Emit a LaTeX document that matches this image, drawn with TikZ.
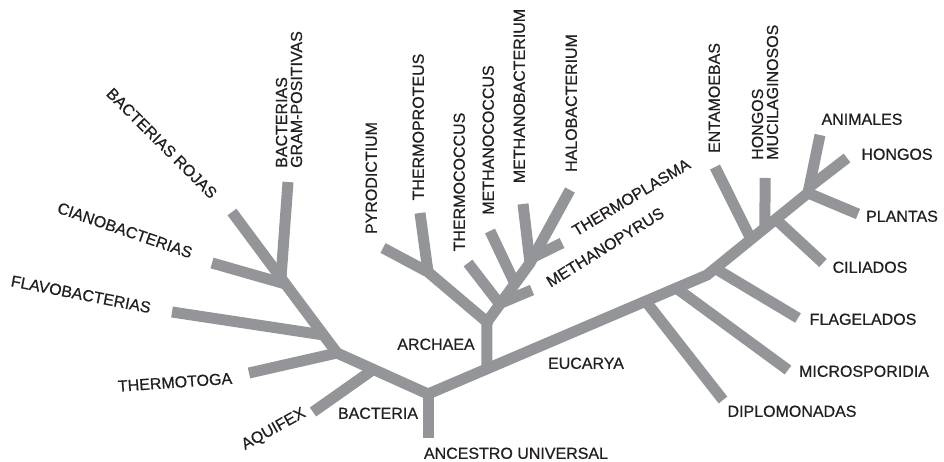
\documentclass[tikz,border=0pt]{standalone}
\usepackage{fontspec}
\setmainfont{Liberation Sans}
\newfontfamily\lblfont{Liberation Sans}[FakeBold=0.6]
\usetikzlibrary{calc}
\definecolor{branchgray}{RGB}{147,149,152}
\definecolor{labelink}{RGB}{35,31,32}
\begin{document}
\begin{tikzpicture}[x=1pt,y=-1pt,
  branch/.style={draw=branchgray, line width=11pt, line cap=butt, line join=miter},
  lbl/.style={text=labelink, font=\lblfont\fontsize{16}{15}\selectfont, inner sep=0pt, text height=11.6pt, text depth=0pt},
  lbltwo/.style={text=labelink, font=\lblfont\fontsize{16}{15}\selectfont, inner sep=0pt, align=left}]
\useasboundingbox (0,0) rectangle (944,462);
% ---------- coordinates ----------
\coordinate (rootend) at (428,438);
\coordinate (R) at (428,394);
% bacteria
\coordinate (B1) at (337,353);
\coordinate (B2) at (281,278);
\coordinate (rojas) at (232,212);
\coordinate (gram) at (288,182);
\coordinate (ciano) at (212,263);
\coordinate (flavo) at (172,312);
\coordinate (thermotoga) at (249,373);
\coordinate (aquifex) at (313,412);
\coordinate (jciano) at ($(B2)!0.08!(B1)$);
\coordinate (jflavo) at ($(B2)!0.76!(B1)$);
\coordinate (jaquifex) at ($(B1)!0.40!(R)$);
% eucarya main
\coordinate (E2) at (707,275);
\coordinate (E4) at (808,193);
\coordinate (E1) at ($(R)!0.211!(E2)$);
% archaea
\coordinate (A0) at (487,322);
\coordinate (P) at (428,272);
\coordinate (pyro) at (383,248);
\coordinate (tproteus) at (420,213);
\coordinate (S) at (530,263);
\coordinate (tcoccus) at (468,263);
\coordinate (mpyrus) at (532,290);
\coordinate (mcoccus) at (490,231);
\coordinate (mbact) at (523,204);
\coordinate (halo) at (570,190);
\coordinate (tplasma) at (562,243);
\coordinate (jtcoccus) at ($(A0)!0.30!(S)$);
\coordinate (jmpyrus) at ($(A0)!0.32!(S)$);
\coordinate (jmcoccus) at ($(A0)!0.65!(S)$);
\coordinate (jtplasma) at ($(S)!0.08!(halo)$);
% eucarya branches
\coordinate (diplo) at (723,400);
\coordinate (micro) at (788,370);
\coordinate (flage) at (798,318);
\coordinate (ciliad) at (823,263);
\coordinate (entam) at (715,167);
\coordinate (hmucil) at (765,178);
\coordinate (anim) at (820,135);
\coordinate (hongos) at (847,158);
\coordinate (plantas) at (858,214);
\coordinate (jdiplo) at ($(R)!0.78!(E2)$);
\coordinate (jmicro) at ($(R)!0.89!(E2)$);
\coordinate (jflage) at ($(E2)!0.08!(E4)$);
\coordinate (jentam) at ($(E2)!0.436!(E4)$);
\coordinate (jhmucil) at ($(E2)!0.574!(E4)$);
\coordinate (jciliad) at ($(E2)!0.68!(E4)$);
\coordinate (jhongos) at ($(E4)!0.10!(anim)$);
% ---------- branches ----------
\draw[branch] (rootend) -- (R);
\draw[branch] (rojas) -- (B2) -- (B1) -- (R) -- (E2) -- (E4) -- (anim);
\draw[branch] (gram) -- (B2);
\draw[branch] (ciano) -- (jciano);
\draw[branch] (flavo) -- (jflavo);
\draw[branch] (thermotoga) -- (B1);
\draw[branch] (aquifex) -- (jaquifex);
% archaea
\draw[branch] (E1) -- (A0) -- (P) -- (pyro);
\draw[branch] (tproteus) -- (P);
\draw[branch] (A0) -- (S) -- (halo);
\draw[branch] (mbact) -- (S);
\draw[branch] (tcoccus) -- (jtcoccus);
\draw[branch] (mpyrus) -- (jmpyrus);
\draw[branch] (mcoccus) -- (jmcoccus);
\draw[branch] (tplasma) -- (jtplasma);
% eucarya
\draw[branch] (diplo) -- (jdiplo);
\draw[branch] (micro) -- (jmicro);
\draw[branch] (flage) -- (jflage);
\draw[branch] (entam) -- (jentam);
\draw[branch] (hmucil) -- (jhmucil);
\draw[branch] (ciliad) -- (jciliad);
\draw[branch] (hongos) -- (jhongos);
\draw[branch] (plantas) -- (E4);
% ---------- labels ----------
\node[lbltwo, rotate=90, anchor=west] (Lgram) at (289,168) {BACTERIAS\\GRAM-POSITIVAS};
\node[lbl, rotate=-45] (Lrojas) at (162,143) {BACTERIAS ROJAS};
\node[lbl, rotate=-19] (Lciano) at (125,230) {CIANOBACTERIAS};
\node[lbl, rotate=-11] (Lflavo) at (81,294) {FLAVOBACTERIAS};
\node[lbl, rotate=4] (Lthermotoga) at (175,382) {THERMOTOGA};
\node[lbl, rotate=29] (Laquifex) at (273,428) {AQUIFEX};
\node[lbl] (Lbacteria) at (378,413) {BACTERIA};
\node[lbl] (Lancestro) at (516,453) {ANCESTRO UNIVERSAL};
\node[lbl] (Larchaea) at (436,344) {ARCHAEA};
\node[lbl] (Leucarya) at (586,363) {EUCARYA};
\node[lbl, rotate=90] (Lpyro) at (371,178) {PYRODICTIUM};
\node[lbl, rotate=90] (Ltproteus) at (418,127) {THERMOPROTEUS};
\node[lbl, rotate=90] (Ltcoccus) at (459,182) {THERMOCOCCUS};
\node[lbl, rotate=90] (Lmcoccus) at (488,140) {METHANOCOCCUS};
\node[lbl, rotate=90] (Lmbact) at (519,96) {METHANOBACTERIUM};
\node[lbl, rotate=90] (Lhalo) at (571,103) {HALOBACTERIUM};
\node[lbl, rotate=31] (Ltplasma) at (631,197) {THERMOPLASMA};
\node[lbl, rotate=32] (Lmpyrus) at (605,247) {METHANOPYRUS};
\node[lbl, rotate=90] (Lentam) at (714,98) {ENTAMOEBAS};
\node[lbltwo, rotate=90, anchor=west] (Lhmucil) at (765,160) {HONGOS\\MUCILAGINOSOS};
\node[lbl] (Lanim) at (862,119) {ANIMALES};
\node[lbl] (Lhongos) at (897,154) {HONGOS};
\node[lbl] (Lplantas) at (902,216) {PLANTAS};
\node[lbl] (Lciliad) at (870,267) {CILIADOS};
\node[lbl] (Lflage) at (863,319) {FLAGELADOS};
\node[lbl] (Lmicro) at (864,371) {MICROSPORIDIA};
\node[lbl] (Ldiplo) at (792,411) {DIPLOMONADAS};
\end{tikzpicture}
\end{document}
